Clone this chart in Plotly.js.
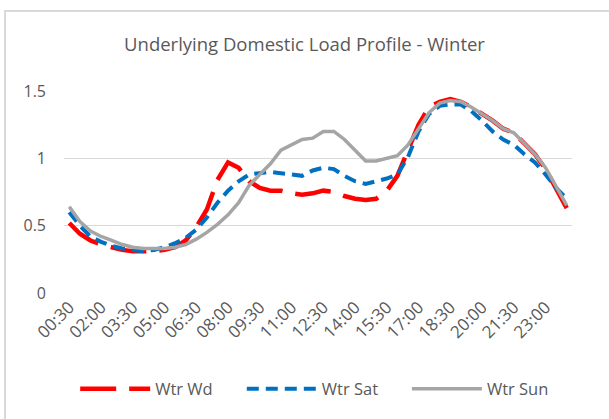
<!DOCTYPE html>
<html>
<head>
<meta charset="utf-8">
<script src="https://cdn.plot.ly/plotly-3.0.1.min.js"></script>
<style>
  html, body { margin: 0; padding: 0; background: #fff; }
  #frame { position: absolute; left: 4px; top: 10px; width: 700px; height: 500px; border: 2px solid #d9d9d9; box-sizing: border-box; }
  #chart { position: absolute; left: 0; top: 0; width: 609px; height: 419px; }
</style>
</head>
<body>
<div id="frame"></div>
<div id="chart"></div>
<script>
// half-hourly time slots, 00:30 .. 00:00
var times = ['00:30','01:00','01:30','02:00','02:30','03:00','03:30','04:00','04:30','05:00',
  '05:30','06:00','06:30','07:00','07:30','08:00','08:30','09:00','09:30','10:00',
  '10:30','11:00','11:30','12:00','12:30','13:00','13:30','14:00','14:30','15:00',
  '15:30','16:00','16:30','17:00','17:30','18:00','18:30','19:00','19:30','20:00',
  '20:30','21:00','21:30','22:00','22:30','23:00','23:30','00:00'];

var wtrWd = [0.52,0.44,0.39,0.36,0.34,0.32,0.31,0.31,0.31,0.32,
  0.34,0.39,0.49,0.62,0.84,0.97,0.93,0.83,0.78,0.76,
  0.76,0.74,0.73,0.74,0.76,0.75,0.72,0.70,0.69,0.70,
  0.76,0.87,1.05,1.25,1.38,1.42,1.44,1.42,1.38,1.33,
  1.28,1.22,1.19,1.11,1.03,0.92,0.77,0.63];

var wtrSat = [0.60,0.50,0.42,0.38,0.35,0.33,0.32,0.31,0.32,0.34,
  0.37,0.41,0.47,0.56,0.67,0.76,0.83,0.88,0.89,0.90,
  0.89,0.88,0.87,0.91,0.93,0.92,0.87,0.83,0.81,0.83,
  0.85,0.88,1.01,1.20,1.33,1.39,1.40,1.40,1.35,1.28,
  1.20,1.14,1.10,1.03,0.97,0.88,0.78,0.70];

var wtrSun = [0.64,0.53,0.46,0.42,0.39,0.36,0.34,0.33,0.33,0.33,
  0.34,0.36,0.40,0.45,0.51,0.58,0.67,0.80,0.88,0.96,
  1.06,1.10,1.14,1.15,1.20,1.20,1.14,1.06,0.98,0.98,
  1.00,1.02,1.10,1.22,1.34,1.41,1.43,1.42,1.38,1.33,
  1.28,1.22,1.19,1.11,1.03,0.93,0.79,0.65];

var tickLabels = times.filter(function(t, i){ return i % 3 == 0; });
var yTicks = [0, 0.5, 1, 1.5];

var font = 'Open Sans, sans-serif';
var grey = '#595959';

var data = [
  {x: times, y: wtrWd, type: 'scatter', mode: 'lines', name: 'Wtr Wd', legend: 'legend',
    line: {color: '#ff0000', width: 4.5, dash: '36px,13px'}},
  {x: times, y: wtrSat, type: 'scatter', mode: 'lines', name: 'Wtr Sat', legend: 'legend2',
    line: {color: '#0070c0', width: 4, dash: '12px,7px'}},
  {x: times, y: wtrSun, type: 'scatter', mode: 'lines', name: 'Wtr Sun', legend: 'legend3',
    line: {color: '#a5a5a5', width: 3.5}}
];

// one legend box per series so the three entries sit in a single row
function legendAt(x) {
  return {
    orientation: 'h',
    x: x, xanchor: 'left',
    y: -0.475, yanchor: 'middle',
    itemwidth: 70,
    font: {family: font, size: 16.5, color: grey},
    bgcolor: 'rgba(0,0,0,0)'
  };
}

var layout = {
  width: 609,
  height: 419,
  paper_bgcolor: 'rgba(0,0,0,0)',
  plot_bgcolor: '#fff',
  margin: {l: 64, r: 37, t: 91, b: 126},
  title: {
    text: 'Underlying Domestic Load Profile - Winter',
    font: {family: font, size: 18.5, color: grey},
    x: 0.5, xanchor: 'center', y: 1 - 45/419, yanchor: 'middle'
  },
  showlegend: true,
  legend: legendAt(0.022),
  legend2: legendAt(0.350),
  legend3: legendAt(0.675),
  xaxis: {
    type: 'category',
    range: [-0.5, times.length - 0.5],
    tickmode: 'array',
    tickvals: tickLabels,
    ticktext: tickLabels,
    tickangle: -45,
    showgrid: false,
    zeroline: false,
    showline: false,
    ticks: '',
    tickfont: {family: font, size: 17, color: grey}
  },
  yaxis: {
    range: [0, 1.5],
    tickmode: 'array',
    tickvals: yTicks,
    ticktext: ['0', '0.5', '1', '1.5'],
    showgrid: true,
    gridcolor: '#d9d9d9',
    gridwidth: 1.5,
    zeroline: false,
    showline: false,
    ticks: '',
    ticklabelstandoff: 17,
    tickfont: {family: font, size: 16, color: grey}
  }
};

Plotly.newPlot('chart', data, layout, {displayModeBar: false, staticPlot: true});
</script>
</body>
</html>
